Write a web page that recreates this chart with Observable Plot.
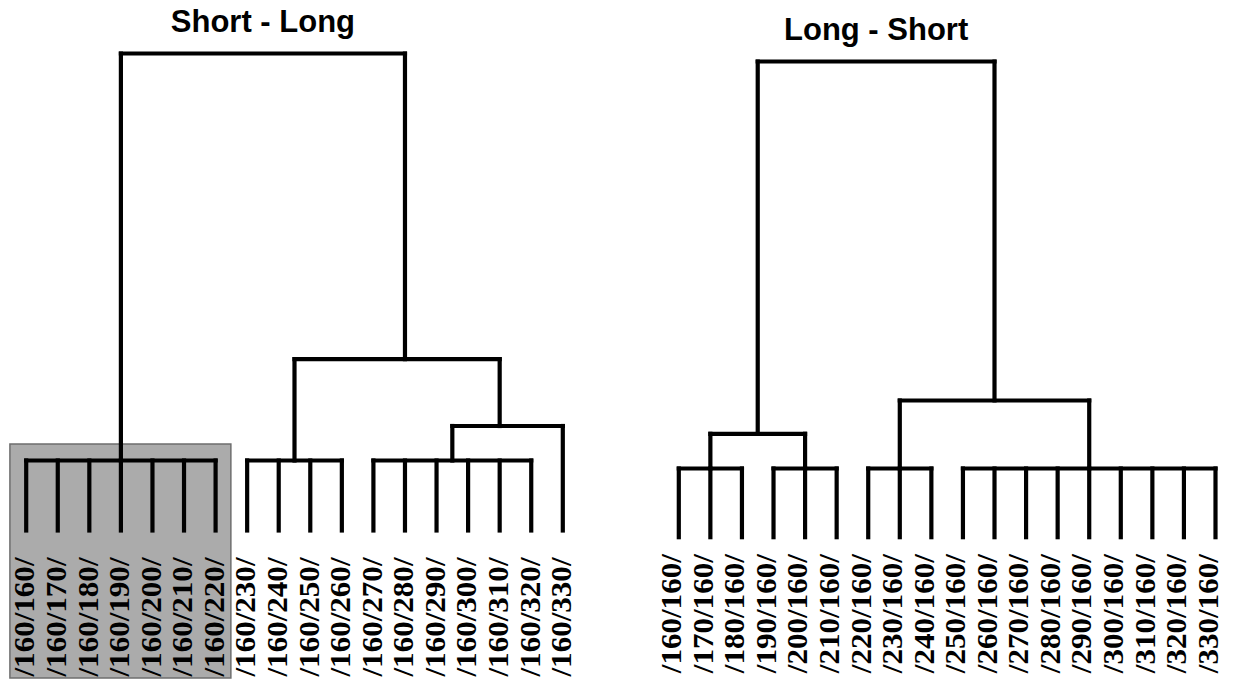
<!DOCTYPE html>
<html>
<head>
<meta charset="utf-8">
<script src="https://cdn.jsdelivr.net/npm/d3@7"></script>
<script src="https://cdn.jsdelivr.net/npm/@observablehq/plot@0.6"></script>
<style>
  html, body { margin: 0; padding: 0; background: #ffffff; }
  #wrap { display: flex; width: 1239px; height: 681px; }
  #wrap svg { display: block; }
</style>
</head>
<body>
<div id="wrap"></div>
<script>
// ---------------- data ----------------
const leftTitle = "Short - Long";
const rightTitle = "Long - Short";

const leftLabels = ["/160/160/", "/160/170/", "/160/180/", "/160/190/", "/160/200/", "/160/210/",
  "/160/220/", "/160/230/", "/160/240/", "/160/250/", "/160/260/", "/160/270/", "/160/280/",
  "/160/290/", "/160/300/", "/160/310/", "/160/320/", "/160/330/"];
const rightLabels = ["/160/160/", "/170/160/", "/180/160/", "/190/160/", "/200/160/", "/210/160/",
  "/220/160/", "/230/160/", "/240/160/", "/250/160/", "/260/160/", "/270/160/", "/280/160/",
  "/290/160/", "/300/160/", "/310/160/", "/320/160/", "/330/160/"];

// merges: children are leaf indices (numbers) or merge names; heights = linkage distance;
// stem = position (in leaf units) where the link rises to its parent
const leftMergeNames = ["L1", "L2", "L3", "L4", "L5", "L6"];
const leftMergeChildren = [[0, 1, 2, 3, 4, 5, 6], [7, 8, 9, 10], [11, 12, 13, 14, 15, 16], ["L3", 17], ["L2", "L4"], ["L1", "L5"]];
const leftMergeHeights = [7.0, 7.0, 7.0, 10.45, 17.13, 47.7];
const leftMergeStem = [3, 8.5, 13.5, 15, 12, 7.5];

const rightMergeNames = ["R1", "R2", "R3", "R4", "R5", "R6", "R7"];
const rightMergeChildren = [[0, 1, 2], [3, 4, 5], ["R1", "R2"], [6, 7, 8], [9, 10, 11, 12, 13, 14, 15, 16, 17], ["R4", "R5"], ["R3", "R6"]];
const rightMergeHeights = [6.87, 6.87, 10.34, 6.87, 6.87, 13.67, 47.57];
const rightMergeStem = [1, 4, 2.5, 7, 13, 10, 6.25];

// highlighted cluster on the left (leaf range)
const highlightLeaves = [0, 6];

// ---------------- helpers ----------------
function buildSegments(names, children, heights, stems) {
  const pos = new Map(), hgt = new Map();
  names.forEach((n, i) => { pos.set(n, stems[i]); hgt.set(n, heights[i]); });
  const cp = c => typeof c === "number" ? c : pos.get(c);
  const ch = c => typeof c === "number" ? 0 : hgt.get(c);
  const segs = [];
  names.forEach((n, i) => {
    const xs = children[i].map(cp);
    segs.push({x1: d3.min(xs), x2: d3.max(xs), y1: heights[i], y2: heights[i]});
    children[i].forEach(c => segs.push({x1: cp(c), x2: cp(c), y1: ch(c), y2: heights[i]}));
  });
  return segs;
}

function rootMid(children, names, stems) {
  const last = children.length - 1;
  const pos = new Map(names.map((n, i) => [n, stems[i]]));
  const xs = children[last].map(c => typeof c === "number" ? c : pos.get(c));
  return (d3.min(xs) + d3.max(xs)) / 2;
}

function panel(opts) {
  const {labels, names, children, heights, stems, title, width, marginLeft, marginRight,
         marginTop, marginBottom, labelDy, labelDx, extra} = opts;
  const segs = buildSegments(names, children, heights, stems);
  const rootH = heights[heights.length - 1];
  const svg = Plot.plot({
    width, height: 681,
    marginLeft, marginRight, marginTop, marginBottom,
    style: {background: "transparent", overflow: "visible"},
    x: {domain: [0, labels.length - 1], axis: null},
    y: {domain: [0, rootH], axis: null},
    marks: [
      ...(extra || []),
      Plot.link(segs, {x1: "x1", y1: "y1", x2: "x2", y2: "y2", stroke: "#000", strokeWidth: 4.2, strokeLinecap: "square"}),
      Plot.text(labels, {x: (d, i) => i, y: 0, text: d => d, rotate: -90, textAnchor: "end", lineAnchor: "middle",
        dy: labelDy, dx: labelDx, fontSize: 29, fontWeight: "bold", fontFamily: "Liberation Serif", fill: "#000"}),
      Plot.text([title], {x: rootMid(children, names, stems), y: rootH, text: d => d, lineAnchor: "bottom",
        dy: -22, fontSize: 31, fontWeight: "bold", fontFamily: "Liberation Sans", fill: "#000"})
    ]
  });
  d3.select(svg).selectAll("text").each(function() {
    const t = this.textContent;
    if (t.startsWith("/")) {
      this.setAttribute("textLength", 119);
      this.setAttribute("lengthAdjust", "spacingAndGlyphs");
    }
  });
  return svg;
}

const wrap = document.getElementById("wrap");

wrap.appendChild(panel({
  labels: leftLabels, names: leftMergeNames, children: leftMergeChildren, heights: leftMergeHeights,
  stems: leftMergeStem, title: leftTitle, width: 620,
  marginLeft: 25.7, marginRight: 57.7, marginTop: 53, marginBottom: 151,
  labelDy: 27, labelDx: -1,
  extra: [Plot.rect([{x1: highlightLeaves[0] - 0.5, x2: highlightLeaves[1] + 0.5, y1: -14.8, y2: 8.6}],
    {x1: "x1", x2: "x2", y1: "y1", y2: "y2", fill: "#ababab", stroke: "#6e6e6e", strokeWidth: 1.5})]
}));

wrap.appendChild(panel({
  labels: rightLabels, names: rightMergeNames, children: rightMergeChildren, heights: rightMergeHeights,
  stems: rightMergeStem, title: rightTitle, width: 619,
  marginLeft: 58.3, marginRight: 24, marginTop: 61, marginBottom: 144.3,
  labelDy: 17, labelDx: -7
}));
</script>
</body>
</html>
